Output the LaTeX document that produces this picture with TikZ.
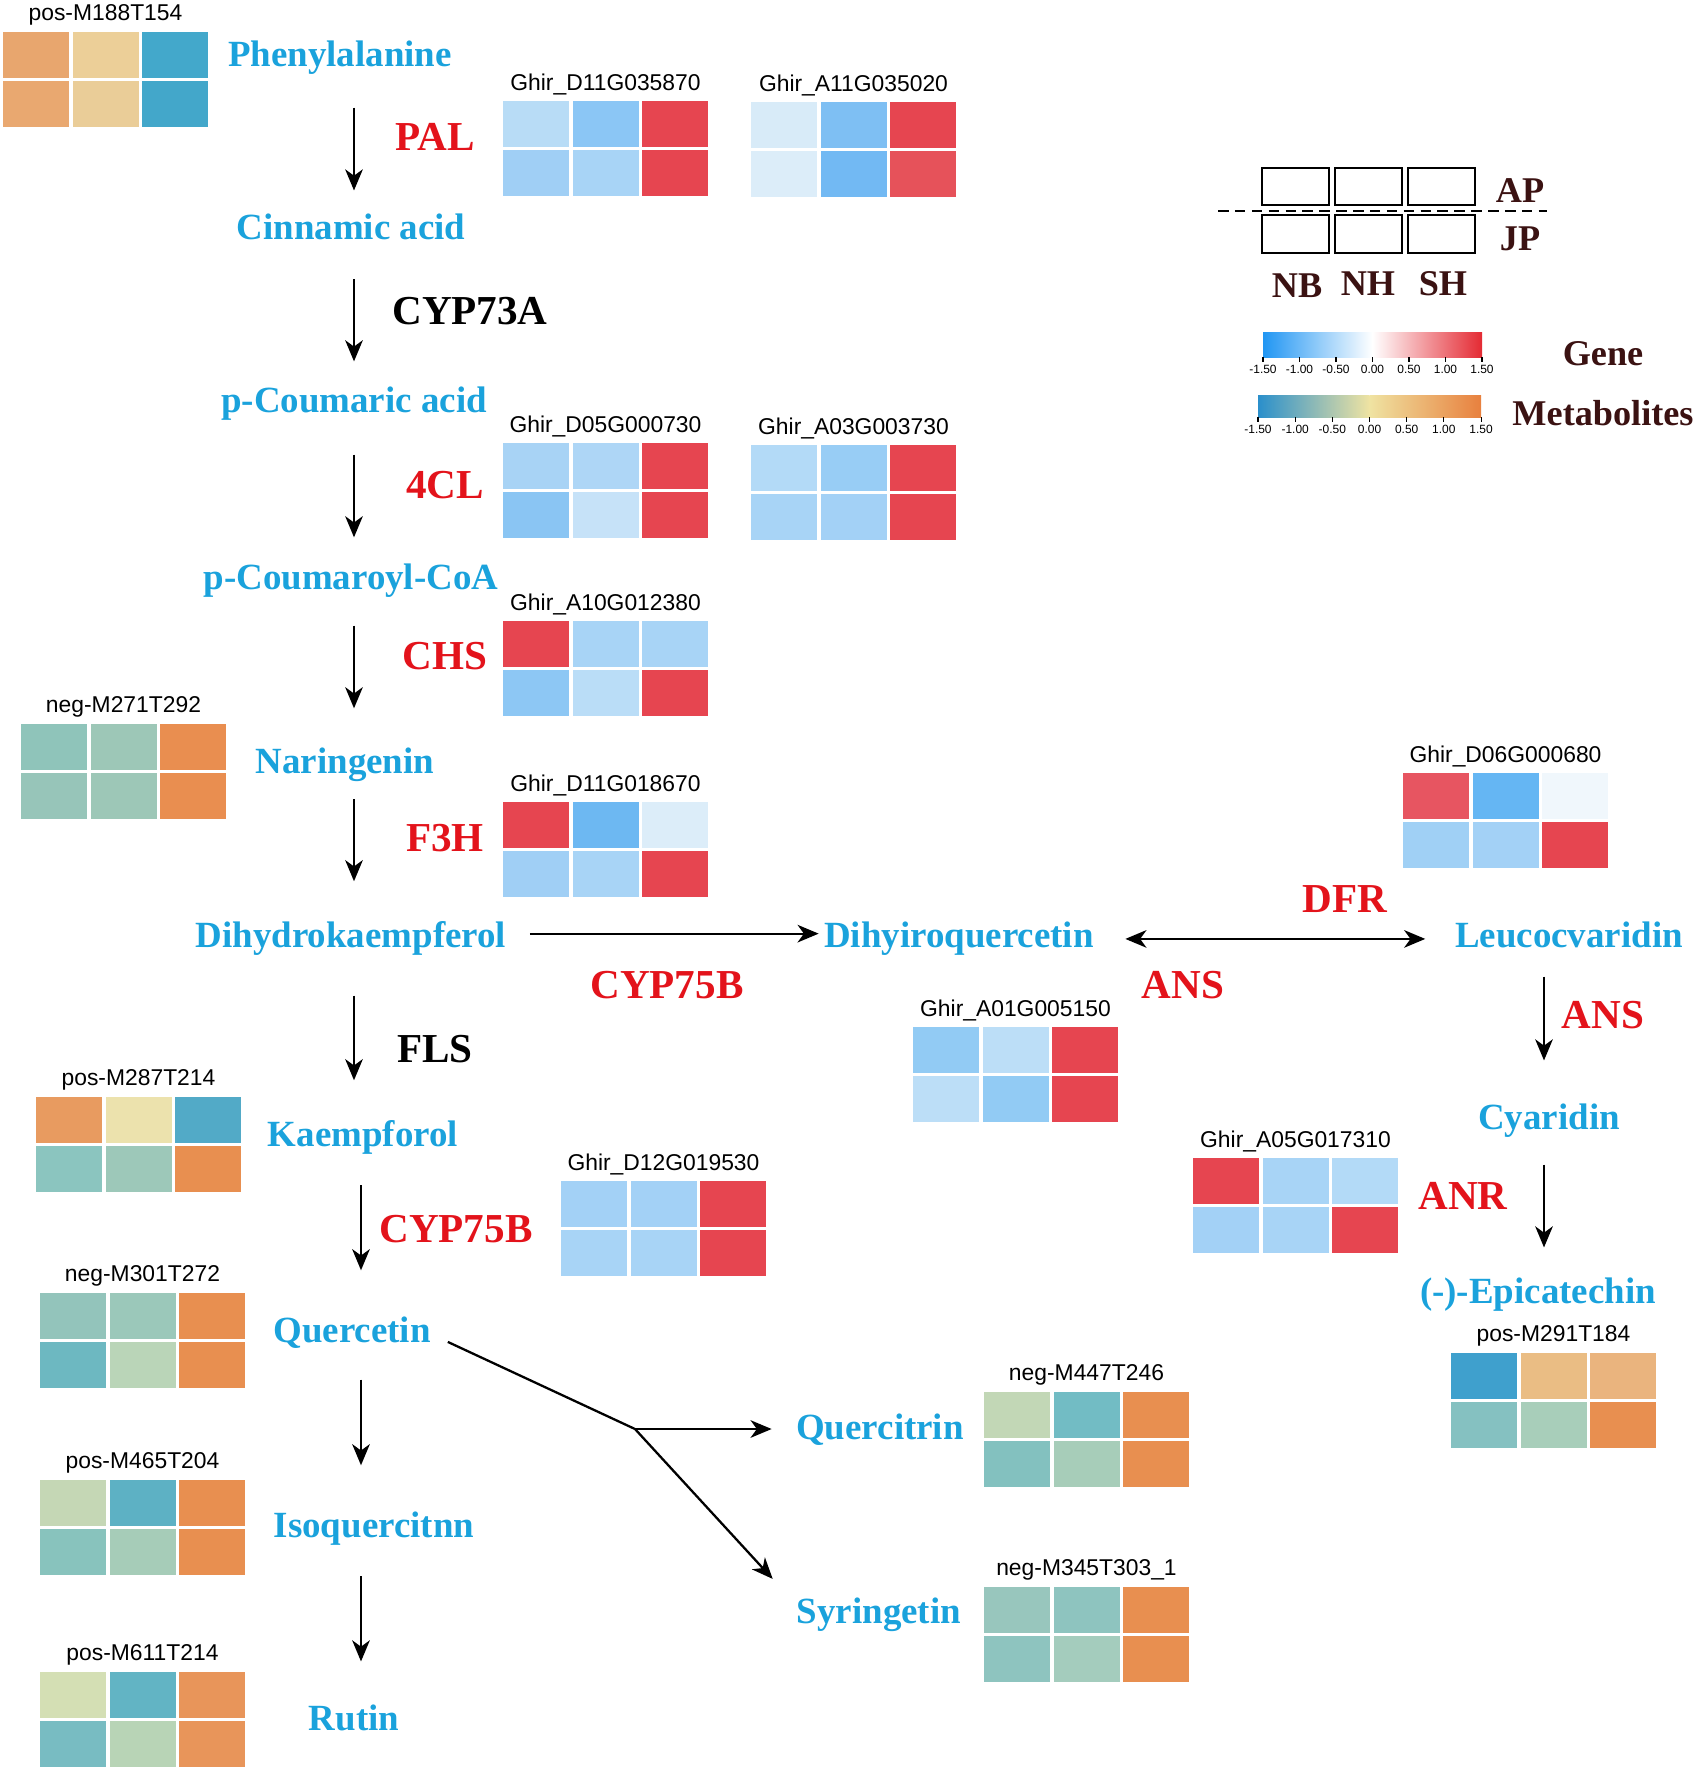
\documentclass[tikz,border=0pt]{standalone}
\usepackage{fontspec}
\setmainfont{Liberation Serif}
\setsansfont{Liberation Sans}
\usetikzlibrary{arrows.meta}

\definecolor{metblue}{HTML}{1AA2DC}
\definecolor{enzred}{HTML}{E3131B}
\definecolor{legdark}{HTML}{3B1212}
\definecolor{gneg}{HTML}{2196F3}
\definecolor{gpos}{HTML}{E42A33}
\definecolor{mneg}{HTML}{2A8FCB}
\definecolor{mlow}{HTML}{88C2B3}
\definecolor{mzero}{HTML}{EFE3A2}
\definecolor{mhigh}{HTML}{EBB37C}
\definecolor{mpos}{HTML}{E8803E}

% heatmap: name, top-left corner, id label, six colours (AP row, JP row)
\newcommand{\hmap}[4]{%
  \begin{scope}[shift={#2}]
    \foreach \hc [count=\i from 0] in {#4}{
      \pgfmathtruncatemacro\col{mod(\i,3)}
      \pgfmathtruncatemacro\row{\i/3}
      \edef\setcell{\noexpand\definecolor{cellc}{HTML}{\hc}}\setcell
      \fill[cellc] (\col*69.5,\row*49) rectangle ++(66,46);
    }
    \node[idlab] (#1) at (102.5,-17) {#3};
  \end{scope}}

\begin{document}
\begin{tikzpicture}[x=0.01cm, y=-0.01cm,
  met/.style={text=metblue, font=\bfseries\fontsize{10.5}{12}\selectfont,
    inner sep=1pt, text height=0.68em, text depth=0.22em, anchor=base},
  enz/.style={text=enzred, font=\bfseries\fontsize{11.7}{13}\selectfont, inner sep=0pt, anchor=base},
  enzk/.style={enz, text=black},
  leg/.style={text=legdark, font=\bfseries\fontsize{10.3}{12}\selectfont, inner sep=0pt, anchor=base},
  idlab/.style={font=\sffamily\fontsize{6.5}{7.5}\selectfont, inner sep=0pt},
  ticklab/.style={font=\sffamily\fontsize{3.4}{4}\selectfont, inner sep=0pt, anchor=north},
  arr/.style={-{Stealth[length=6pt,width=5pt,inset=1.8pt]}, line width=0.65pt},
  darr/.style={{Stealth[length=6pt,width=5pt,inset=1.8pt]}-{Stealth[length=6pt,width=5pt,inset=1.8pt]}, line width=0.65pt}]
  \useasboundingbox (0,0) rectangle (1698,1772);

  % metabolites, main chain
  \node[met] (phe) at (340,66) {Phenylalanine};
  \node[met] (cin) at (351,239) {Cinnamic acid};
  \node[met] (pcou) at (354,412) {p-Coumaric acid};
  \node[met] (pcoa) at (351,589) {p-Coumaroyl-CoA};
  \node[met] (nar) at (345,773) {Naringenin};
  \node[met] (dhk) at (351,947) {Dihydrokaempferol};
  \node[met] (kae) at (363,1146) {Kaempforol};
  \node[met] (que) at (352,1342) {Quercetin};
  \node[met] (iso) at (374,1537) {Isoquercitnn};
  \node[met] (rut) at (354,1730) {Rutin};
  % side branches
  \node[met] (dhq) at (959,947) {Dihyiroquercetin};
  \node[met] (leu) at (1569,947) {Leucocvaridin};
  \node[met] (cya) at (1549,1129) {Cyaridin};
  \node[met] (epi) at (1538,1303) {(-)-Epicatechin};
  \node[met] (qcn) at (880,1439) {Quercitrin};
  \node[met] (syr) at (879,1623) {Syringetin};

  % enzymes
  \node[enz] (pal) at (435,150) {PAL};
  \node[enzk] (c73) at (470,324) {CYP73A};
  \node[enz] (fcl) at (445,498) {4CL};
  \node[enz] (chs) at (445,669) {CHS};
  \node[enz] (fth) at (445,851) {F3H};
  \node[enz] (c75a) at (667,998) {CYP75B};
  \node[enzk] (fls) at (435,1062) {FLS};
  \node[enz] (c75b) at (456,1242) {CYP75B};
  \node[enz] (dfr) at (1345,912) {DFR};
  \node[enz] (ansa) at (1183,998) {ANS};
  \node[enz] (ansb) at (1603,1028) {ANS};
  \node[enz] (anr) at (1463,1209) {ANR};

  % arrows
  \coordinate (laneA) at (354,0);
  \coordinate (laneB) at (361,0);
  \coordinate (laneC) at (1544,0);
  \foreach \ma/\mb/\lane/\sa/\sb in {phe/cin/laneA/8.4/5.8, cin/pcou/laneA/8.1/6.4,
      pcou/pcoa/laneA/8.7/6.7, pcoa/nar/laneA/7.0/10.4, nar/dhk/laneA/4.1/10.7,
      dhk/kae/laneA/10.4/10.7, kae/que/laneB/7.8/12.4, que/iso/laneB/7.3/12.4,
      iso/rut/laneB/7.8/11.5, leu/cya/laneC/5.0/11.5, cya/epi/laneC/6.7/7.8}
    \draw[arr, shorten <=\sa pt, shorten >=\sb pt] (\ma.south -| \lane) -- (\mb.north -| \lane);
  \draw[arr, shorten <=5.5pt, shorten >=0.4pt] ([yshift=1.5pt]dhk.east) -- ([yshift=1.5pt]dhq.west);
  \draw[darr, shorten <=7.8pt, shorten >=7.3pt] (dhq.east) -- (leu.west);
  \coordinate (fork) at (635,1429);
  \draw[line width=0.65pt] ([shift={(13,8)}]que.east) -- (fork);
  \draw[arr, shorten >=5.8pt] (fork) -- (fork -| qcn.west);
  \draw[arr] (fork) -- ([shift={(-20,-36)}]syr.west);

  % metabolite heatmaps
  \hmap{m188}{(3,32)}{pos-M188T154}{E8A66E,ECCF98,43A8CB,E9A870,EACD98,43A7CA}
  \hmap{m271}{(21,724)}{neg-M271T292}{8FC4BA,9DC7B7,E98E50,97C5B9,9DC7B7,E98E50}
  \hmap{m287}{(36,1097)}{pos-M287T214}{E89B60,ECE2AD,52AAC7,8BC5BF,9DC8B9,E88F50}
  \hmap{m301}{(40,1293)}{neg-M301T272}{93C4BB,9BC8BA,E88F50,6DB8C1,BAD5B8,E88F50}
  \hmap{m465}{(40,1480)}{pos-M465T204}{C5D7B5,5DB1C4,E88F50,88C3BD,A6CCB8,E88F50}
  \hmap{m611}{(40,1672)}{pos-M611T214}{D4DFB4,62B4C4,E8955A,78BCC2,B8D4B6,E8955A}
  \hmap{m447}{(984,1392)}{neg-M447T246}{C2D7B6,72BCC4,E88F50,83C1BF,A7CDB9,E88F50}
  \hmap{m345}{(984,1587)}{neg-M345T303\_1}{98C6BD,8EC4BF,E88F50,8EC4BF,A4CCBD,E88F50}
  \hmap{m291}{(1451,1353)}{pos-M291T184}{3FA0CD,EABD84,EAB47E,85C1C1,A8CEBA,E88F50}

  % gene heatmaps
  \hmap{pala}{(503,101)}{Ghir\_D11G035870}{B8DCF6,8BC6F5,E64550,A0CFF5,A8D4F6,E64550}
  \hmap{palb}{(751,102)}{Ghir\_A11G035020}{D8EBF8,7EBFF3,E64550,DCEDF9,72B9F3,E6525A}
  \hmap{fcla}{(503,443)}{Ghir\_D05G000730}{A8D3F5,AED6F6,E64550,8AC5F3,C6E2F8,E64550}
  \hmap{fclb}{(751,445)}{Ghir\_A03G003730}{B3DAF7,98CDF5,E64550,A8D4F6,A3D1F6,E64550}
  \hmap{chsg}{(503,621)}{Ghir\_A10G012380}{E64550,A8D4F6,A8D4F6,8DC7F4,BADDF7,E64550}
  \hmap{fthg}{(503,802)}{Ghir\_D11G018670}{E64550,6DB8F2,DCEDF9,A0CFF5,A8D4F6,E64550}
  \hmap{dfrg}{(1403,773)}{Ghir\_D06G000680}{E75561,65B6F3,F0F7FC,A0D0F5,A3D1F6,E64550}
  \hmap{ansg}{(913,1027)}{Ghir\_A01G005150}{92CBF4,BCDEF7,E64550,BCDEF7,92CBF4,E64550}
  \hmap{anrg}{(1193,1158)}{Ghir\_A05G017310}{E64550,A8D4F6,B3DAF7,A3D1F6,A8D4F6,E64550}
  \hmap{c75g}{(561,1181)}{Ghir\_D12G019530}{A3D1F6,A3D1F6,E64550,A8D4F6,A8D4F6,E64550}

  % legend: layout of the cells
  \foreach \x in {1262,1335,1408}{
    \draw[line width=0.7pt] (\x,168) rectangle ++(67,37);
    \draw[line width=0.7pt] (\x,215) rectangle ++(67,38);
  }
  \draw[dash pattern=on 3pt off 1.8pt, line width=0.6pt] (1218,211) -- (1547,211);
  \node[leg] (ap) at (1520,202) {AP};
  \node[leg] (jp) at (1520,250) {JP};
  \node[leg] (nb) at (1297,297) {NB};
  \node[leg] (nh) at (1368,295) {NH};
  \node[leg] (sh) at (1443,295) {SH};

  % legend: colour scales
  \shade[left color=gneg, right color=white] (1263,332) rectangle (1372.5,357);
  \shade[left color=white, right color=gpos] (1372.5,332) rectangle (1482,357);
  \shade[left color=mneg, middle color=mlow, right color=mzero] (1258,395) rectangle (1369.5,417);
  \shade[left color=mzero, middle color=mhigh, right color=mpos] (1369.5,395) rectangle (1481,417);
  \foreach \v [count=\i from 0] in {-1.50,-1.00,-0.50,0.00,0.50,1.00,1.50}{
    \draw[line width=0.3pt] (1263+\i*36.5,357) -- ++(0,5);
    \node[ticklab] (gt\i) at (1263+\i*36.5,364) {\v};
    \draw[line width=0.3pt] (1258+\i*37.17,417) -- ++(0,5);
    \node[ticklab] (mt\i) at (1258+\i*37.17,424) {\v};
  }
  \node[leg] (gene) at (1603,365) {Gene};
  \node[leg] (mets) at (1603,425) {Metabolites};
\end{tikzpicture}
\end{document}
